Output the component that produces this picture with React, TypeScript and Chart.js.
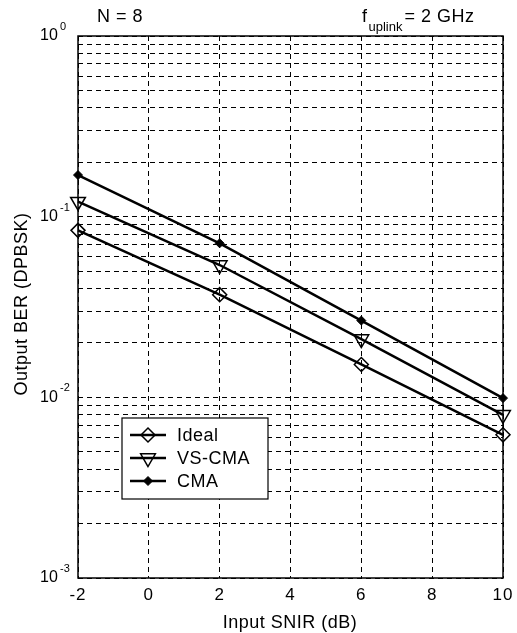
import React, { useEffect, useRef } from 'react';
import { Chart, registerables } from 'chart.js';
import { drawPoint } from 'chart.js/helpers';

Chart.register(...registerables);

// ---- data ----
const snir = [-2, 2, 6, 10];
const idealBer = [0.084, 0.037, 0.0152, 0.0062];
const vsCmaBer = [0.121, 0.054, 0.021, 0.008];
const cmaBer = [0.17, 0.0712, 0.0266, 0.0099];
const seriesNames = ['Ideal', 'VS-CMA', 'CMA'];
const xTicks = [-2, 0, 2, 4, 6, 8, 10];
const yDecades = [0, -1, -2, -3];
const yGrid: number[] = [];
for (let e = -3; e < 0; e++) {
  for (let s = 1; s <= 9; s++) yGrid.push(s * Math.pow(10, e));
}
yGrid.push(1);

const FONT = '"Liberation Sans", Arial, Helvetica, sans-serif';

const pts = (ys: number[]) => snir.map((x, i) => ({ x, y: ys[i] }));

const decorPlugin = {
  id: 'decor',
  afterDatasetsDraw(chart: any) {
    const { ctx, chartArea: a } = chart;
    ctx.save();
    ctx.setLineDash([]);
    ctx.strokeStyle = '#000';
    ctx.lineWidth = 1.5;
    ctx.strokeRect(a.left, a.top, a.right - a.left, a.bottom - a.top);

    // legend box
    const bx = 122, by = 418, bw = 146, bh = 81;
    ctx.fillStyle = '#fff';
    ctx.fillRect(bx, by, bw, bh);
    ctx.lineWidth = 1.2;
    ctx.strokeRect(bx, by, bw, bh);
    const rows = [435, 458, 481];
    chart.data.datasets.forEach((ds: any, i: number) => {
      const y = rows[i];
      ctx.setLineDash([]);
      ctx.strokeStyle = '#000';
      ctx.lineWidth = ds.borderWidth;
      ctx.beginPath();
      ctx.moveTo(130, y);
      ctx.lineTo(166, y);
      ctx.stroke();
      ctx.fillStyle = ds.pointBackgroundColor;
      ctx.strokeStyle = '#000';
      ctx.lineWidth = ds.pointBorderWidth;
      drawPoint(ctx, {
        pointStyle: ds.pointStyle,
        rotation: ds.pointRotation || 0,
        radius: ds.pointRadius,
        borderWidth: ds.pointBorderWidth,
      } as any, 148, y);
      ctx.fillStyle = '#000';
      ctx.font = `18px ${FONT}`;
      (ctx as any).letterSpacing = '0.5px';
      ctx.textAlign = 'left';
      ctx.textBaseline = 'middle';
      ctx.fillText(ds.label, 177, y + 1);
    });
    ctx.restore();
  },
  afterDraw(chart: any) {
    const { ctx, scales } = chart;
    const xs = scales.x, ys = scales.y;
    ctx.save();
    ctx.fillStyle = '#000';
    ctx.textBaseline = 'middle';
    (ctx as any).letterSpacing = '0px';

    // y tick labels 10^n
    yDecades.forEach((d) => {
      const py = ys.getPixelForValue(Math.pow(10, d));
      ctx.textAlign = 'left';
      ctx.font = `16px ${FONT}`;
      ctx.fillText('10', 40, py);
      ctx.font = `11px ${FONT}`;
      ctx.fillText(String(d), 60, py - 9);
    });

    // x tick labels
    ctx.font = `17px ${FONT}`;
    ctx.textAlign = 'center';
    (ctx as any).letterSpacing = '1px';
    xTicks.forEach((v) => {
      ctx.fillText(String(v), xs.getPixelForValue(v), 595);
    });

    // axis titles
    ctx.font = `18px ${FONT}`;
    (ctx as any).letterSpacing = '0.5px';
    ctx.fillText('Input SNIR (dB)', 290, 623);
    ctx.save();
    ctx.translate(22, 304);
    ctx.rotate(-Math.PI / 2);
    ctx.fillText('Output BER (DPBSK)', 0, 0);
    ctx.restore();

    // top annotations
    ctx.textAlign = 'left';
    ctx.font = `18px ${FONT}`;
    ctx.fillText('N = 8', 97, 17);
    let x = 362;
    ctx.fillText('f', x, 17);
    x += ctx.measureText('f').width;
    ctx.font = `13px ${FONT}`;
    (ctx as any).letterSpacing = '0px';
    ctx.fillText('uplink', x + 1, 27);
    x += ctx.measureText('uplink').width + 3;
    ctx.font = `18px ${FONT}`;
    (ctx as any).letterSpacing = '0.5px';
    ctx.fillText('= 2 GHz', x, 17);
    ctx.restore();
  },
};

export default function App() {
  const ref = useRef<HTMLCanvasElement>(null);
  useEffect(() => {
    document.body.style.margin = '0';
    const canvas = ref.current!;
    const common = {
      borderColor: '#000',
      borderWidth: 2.5,
      pointBorderColor: '#000',
      tension: 0,
      clip: false as any,
    };
    const chart = new Chart(canvas, {
      type: 'line',
      data: {
        datasets: [
          {
            ...common,
            label: seriesNames[0],
            data: pts(idealBer),
            pointStyle: 'rectRot',
            pointRadius: 7,
            pointBorderWidth: 1.5,
            pointBackgroundColor: 'rgba(0,0,0,0)',
          },
          {
            ...common,
            label: seriesNames[1],
            data: pts(vsCmaBer),
            pointStyle: 'triangle',
            pointRotation: 180,
            pointRadius: 8.5,
            pointBorderWidth: 1.5,
            pointBackgroundColor: 'rgba(0,0,0,0)',
          },
          {
            ...common,
            label: seriesNames[2],
            data: pts(cmaBer),
            pointStyle: 'rectRot',
            pointRadius: 4.5,
            pointBorderWidth: 1,
            pointBackgroundColor: '#000',
          },
        ] as any,
      },
      options: {
        animation: false,
        responsive: false,
        devicePixelRatio: 1,
        layout: { padding: { top: 36, right: 14, left: 0, bottom: 0 } },
        plugins: { legend: { display: false }, title: { display: false }, tooltip: { enabled: false } },
        events: [],
        scales: {
          x: {
            type: 'linear',
            min: -2,
            max: 10,
            afterBuildTicks: (s: any) => {
              s.ticks = xTicks.map((v) => ({ value: v }));
            },
            afterFit: (s: any) => {
              s.height = 55;
            },
            ticks: { display: false },
            grid: { color: '#000', lineWidth: 1, drawTicks: false },
            border: { display: false, dash: [5, 4] },
          },
          y: {
            type: 'logarithmic',
            min: 0.001,
            max: 1,
            afterBuildTicks: (s: any) => {
              s.ticks = yGrid.map((v) => ({ value: v }));
            },
            afterFit: (s: any) => {
              s.width = 78;
            },
            ticks: { display: false },
            grid: { color: '#000', lineWidth: 1, drawTicks: false },
            border: { display: false, dash: [5, 4] },
          },
        } as any,
      },
      plugins: [decorPlugin],
    });
    return () => chart.destroy();
  }, []);
  return (
    <div style={{ width: 517, height: 633 }}>
      <canvas ref={ref} width={517} height={633} style={{ display: 'block', width: 517, height: 633 }} />
    </div>
  );
}
